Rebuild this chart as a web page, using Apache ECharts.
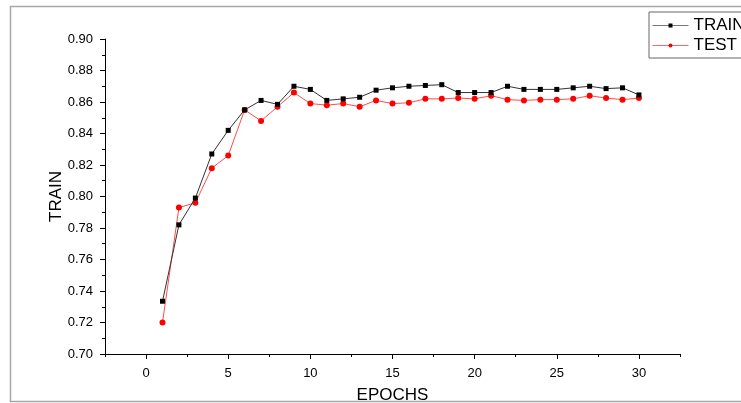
<!DOCTYPE html>
<html>
<head>
<meta charset="utf-8">
<script src="https://cdn.jsdelivr.net/npm/echarts@6/dist/echarts.min.js"></script>
<style>
  html, body { margin: 0; padding: 0; background: #fff; }
  #chart { width: 741px; height: 403px; }
</style>
</head>
<body>
<div id="chart"></div>
<script>
// values
var epochs = [1,2,3,4,5,6,7,8,9,10,11,12,13,14,15,16,17,18,19,20,21,22,23,24,25,26,27,28,29,30];
var trainAcc = [0.7335,0.782,0.799,0.827,0.842,0.855,0.861,0.8585,0.870,0.868,0.861,0.862,0.863,0.8675,0.869,
                0.870,0.8705,0.871,0.866,0.866,0.866,0.870,0.868,0.868,0.868,0.869,0.870,0.8685,0.869,0.8645];
var testAcc = [0.720,0.793,0.796,0.818,0.826,0.855,0.848,0.857,0.866,0.859,0.858,0.859,0.857,0.861,0.859,
               0.8595,0.862,0.862,0.8625,0.862,0.864,0.8615,0.861,0.8615,0.8615,0.862,0.864,0.8625,0.8615,0.8625];
var xMajorTicks = [0,5,10,15,20,25,30];
var xMinorTicks = [-2.5,2.5,7.5,12.5,17.5,22.5,27.5,32.5];

var font = 'Liberation Sans, Arial, sans-serif';

function pairs(xs, ys) {
    var out = [];
    for (var i = 0; i < xs.length; i++) out.push([xs[i], ys[i]]);
    return out;
}

var myChart = echarts.init(document.getElementById('chart'));
var option = {
    animation: false,
    backgroundColor: '#fff',
    graphic: [{
        type: 'rect',
        shape: { x: 10.5, y: 6.5, width: 800, height: 395 },
        style: { fill: 'none', stroke: '#a8a8a8', lineWidth: 1.5 },
        silent: true
    }],
    grid: { left: 105, right: 61, top: 39, bottom: 49, outerBoundsMode: 'none', containLabel: false },
    legend: {
        orient: 'vertical',
        left: 649,
        top: 12,
        padding: [5, 12, 4, 3],
        itemWidth: 36,
        itemHeight: 5,
        itemGap: 3,
        borderColor: '#666',
        borderWidth: 1,
        textStyle: { fontSize: 17, color: '#000', fontFamily: font },
        data: [
            { name: 'TRAIN', itemStyle: { color: '#000' }, lineStyle: { color: '#777', width: 1 } },
            { name: 'TEST', itemStyle: { color: '#ff0000' }, lineStyle: { color: '#ff6666', width: 1 } }
        ]
    },
    xAxis: [{
        type: 'value',
        min: -2.5,
        max: 32.5,
        name: 'EPOCHS',
        nameLocation: 'middle',
        nameGap: 33,
        nameMoveOverlap: false,
        nameTextStyle: { fontSize: 17, color: '#000', fontFamily: font },
        splitLine: { show: false },
        axisLine: { onZero: false, lineStyle: { color: '#000', width: 1 } },
        axisTick: { show: true, inside: false, length: 5, customValues: xMajorTicks, lineStyle: { color: '#000' } },
        axisLabel: { customValues: xMajorTicks, fontSize: 13, color: '#000', fontFamily: font, margin: 13 }
    }, {
        type: 'value',
        min: -2.5,
        max: 32.5,
        position: 'bottom',
        splitLine: { show: false },
        axisLine: { show: false },
        axisTick: { show: true, inside: false, length: 3, customValues: xMinorTicks, lineStyle: { color: '#000' } },
        axisLabel: { show: false }
    }],
    yAxis: {
        type: 'value',
        min: 0.70,
        max: 0.90,
        interval: 0.02,
        name: 'TRAIN',
        nameLocation: 'middle',
        nameGap: 40,
        nameMoveOverlap: false,
        nameTextStyle: { fontSize: 17, color: '#000', fontFamily: font },
        splitLine: { show: false },
        axisLine: { show: true, onZero: false, lineStyle: { color: '#000', width: 1 } },
        axisTick: { show: true, inside: false, length: 5, lineStyle: { color: '#000' } },
        minorTick: { show: true, splitNumber: 2, length: 3, lineStyle: { color: '#000' } },
        axisLabel: {
            fontSize: 13, color: '#000', fontFamily: font, margin: 12,
            formatter: function (v) { return v.toFixed(2); }
        }
    },
    series: [{
        name: 'TRAIN',
        type: 'line',
        z: 3,
        data: pairs(epochs, trainAcc),
        symbol: 'rect',
        symbolSize: 5,
        color: '#000',
        lineStyle: { color: '#333', width: 1 },
        itemStyle: { color: '#000' }
    }, {
        name: 'TEST',
        type: 'line',
        z: 2,
        data: pairs(epochs, testAcc),
        symbol: 'circle',
        symbolSize: 6,
        color: '#ff0000',
        lineStyle: { color: '#ff4d4d', width: 1 },
        itemStyle: { color: '#ff0000' }
    }]
};
myChart.setOption(option);
</script>
</body>
</html>
